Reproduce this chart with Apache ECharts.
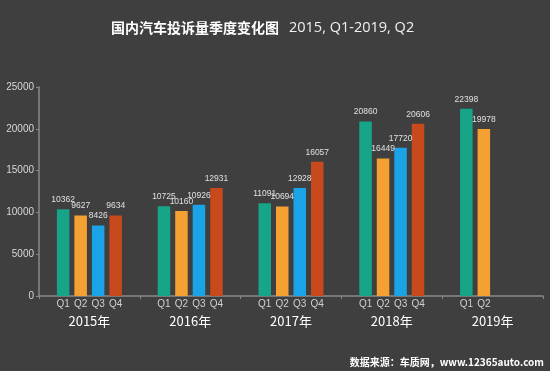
<!DOCTYPE html>
<html><head><meta charset="utf-8">
<script src="https://cdn.jsdelivr.net/npm/echarts@6/dist/echarts.min.js"></script>
<style>html,body{margin:0;padding:0;background:#3f3f3f}#c{width:550px;height:371px}</style>
</head><body><div id="c"></div>
<script>
const years = ['2015年','2016年','2017年','2018年','2019年'];
const quarters = ['Q1','Q2','Q3','Q4'];
const q1 = [10362, 10725, 11091, 20860, 22398];
const q2 = [9627, 10160, 10694, 16449, 19978];
const q3 = [8426, 10926, 12928, 17720, null];
const q4 = [9634, 12931, 16057, 20606, null];
const yTicks = [0, 5000, 10000, 15000, 20000, 25000];
const colors = ['#17a589', '#f5a032', '#1ba3e8', '#c8491b'];

const values = [q1, q2, q3, q4];
const series = [];
values.forEach((vals, i) => {
  // ghost series carrying the quarter label under each bar
  series.push({
    type: 'bar', stack: 's' + i, barWidth: 12.5, barGap: '40%',
    data: vals.map(v => v == null ? null : 0),
    itemStyle: { color: colors[i] },
    label: { show: true, position: 'bottom', distance: 3, formatter: quarters[i],
             color: '#d0d0d0', fontSize: 10, fontFamily: 'Liberation Sans' },
    silent: true
  });
  series.push({
    type: 'bar', stack: 's' + i, barWidth: 12.5, barGap: '40%',
    data: vals,
    itemStyle: { color: colors[i] },
    label: { show: true, position: 'top', distance: 5, color: '#e0e0e0',
             fontSize: 8.5, fontFamily: 'Liberation Sans' }
  });
});

const chart = echarts.init(document.getElementById('c'), null, { renderer: 'canvas' });
chart.setOption({
  backgroundColor: '#3f3f3f',
  animation: false,
  title: {
    text: '{b|国内汽车投诉量季度变化图}  {r|2015, Q1-2019, Q2}',
    left: 106, top: 14,
    textStyle: {
      fontWeight: 'normal',
      rich: {
        b: { fontFamily: 'Noto Sans CJK SC', fontWeight: 'bold', fontSize: 14, color: '#ffffff' },
        r: { fontFamily: 'Open Sans', fontWeight: 'normal', fontSize: 14.5, color: '#f0f0f0' }
      }
    }
  },
  graphic: [{
    type: 'text', right: 6, top: 357,
    style: { text: '数据来源：车质网，www.12365auto.com', fill: '#ffffff',
             font: 'bold 10px "Noto Sans CJK SC"' }
  }],
  grid: { left: 39, right: 7, top: 87, bottom: 75, containLabel: false },
  xAxis: {
    type: 'category', data: years,
    axisLine: { show: true, lineStyle: { color: '#8a8a8a', width: 1.5 } },
    axisTick: { show: true, length: 3, lineStyle: { color: '#8a8a8a' } },
    axisLabel: { color: '#ffffff', fontSize: 13, margin: 19, fontFamily: 'Noto Sans CJK SC' }
  },
  yAxis: {
    type: 'value', min: yTicks[0], max: yTicks[yTicks.length - 1], interval: 5000,
    splitLine: { show: false },
    axisLine: { show: true, lineStyle: { color: '#8a8a8a', width: 1.5 } },
    axisTick: { show: true, length: 3, lineStyle: { color: '#8a8a8a' } },
    axisLabel: { color: '#d8d8d8', fontSize: 10, margin: 5, fontFamily: 'Liberation Sans',
                 formatter: v => String(v) }
  },
  series: series
});
</script></body></html>
